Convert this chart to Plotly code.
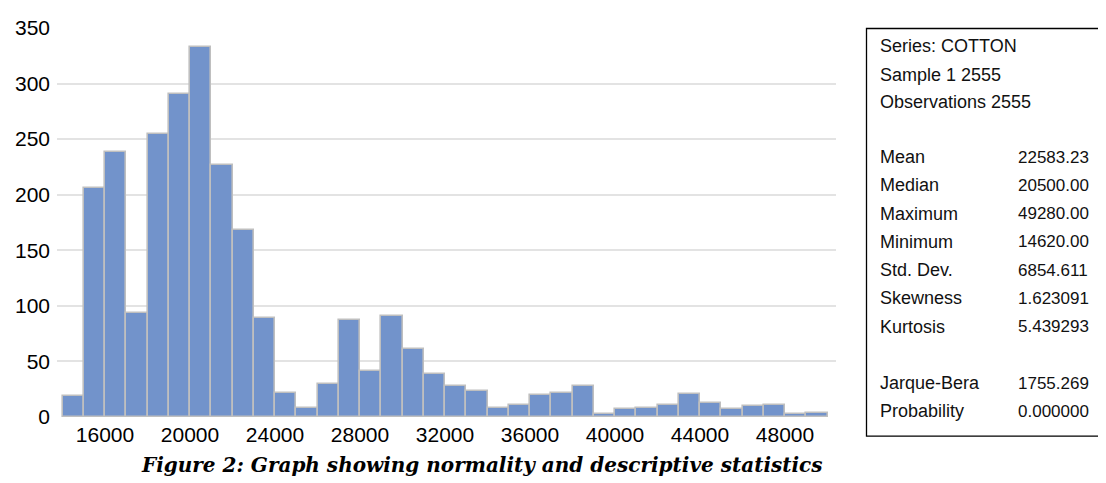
import plotly.graph_objects as go

# Histogram bins (left edge of each 1000-wide bin) and counts
bin_left = list(range(14000, 50000, 1000))
bin_width = 1000
counts = [19, 206, 238, 94, 255, 291, 333, 227, 168, 89,
          22, 8, 30, 87, 41, 91, 61, 39, 28, 23,
          8, 11, 20, 22, 28, 3, 7, 8, 11, 21,
          13, 7, 10, 11, 3, 4]

x_ticks = [16000, 20000, 24000, 28000, 32000, 36000, 40000, 44000, 48000]
y_ticks = [0, 50, 100, 150, 200, 250, 300, 350]

stat_header = ["Series: COTTON", "Sample 1 2555", "Observations 2555"]
stat_names = ["Mean", "Median", "Maximum", "Minimum", "Std. Dev.", "Skewness", "Kurtosis"]
stat_values = ["22583.23", "20500.00", "49280.00", "14620.00", "6854.611", "1.623091", "5.439293"]
test_names = ["Jarque-Bera", "Probability"]
test_values = ["1755.269", "0.000000"]

caption = "Figure 2: Graph showing normality and descriptive statistics"

centers = [b + bin_width / 2 for b in bin_left]

fig = go.Figure()
fig.add_trace(go.Bar(
    x=centers, y=counts, width=[bin_width] * len(counts),
    marker=dict(color="#7293CB", line=dict(color="#BFBFBF", width=1.6)),
    hoverinfo="x+y",
))

# page body has an 8px default margin; work in screen pixels and shift
OFF = 8
W, H = 1106 - 2 * OFF, 483 - OFF
L, R = 57 - OFF, 836 - OFF
T, B = 28 - OFF, 417.4 - OFF
plot_w = R - L
plot_h = B - T

def px_x(px):
    return (px - OFF - L) / plot_w

def px_y(py):
    return (B - (py - OFF)) / plot_h

tick_font = dict(family="Liberation Sans, Arial, sans-serif", size=21, color="#000000")

fig.update_layout(
    width=W, height=H,
    margin=dict(l=L, r=W - R, t=T, b=H - B, autoexpand=False),
    paper_bgcolor="white", plot_bgcolor="white",
    showlegend=False, bargap=0,
    xaxis=dict(range=[13740, 50400], tickvals=x_ticks, ticktext=[str(v) for v in x_ticks],
               showgrid=False, zeroline=False, showline=False, ticks="", automargin=False,
               tickfont=tick_font, ticklabelstandoff=3),
    yaxis=dict(range=[0, 350], tickvals=y_ticks, ticktext=[str(v) for v in y_ticks],
               showgrid=True, gridcolor="#E3E3E3", gridwidth=1.5, zeroline=False, automargin=False,
               showline=False, ticks="", tickfont=tick_font, ticklabelstandoff=6),
)

# Stats box border
fig.add_shape(type="rect", xref="paper", yref="paper",
              x0=px_x(866.5), x1=px_x(1105), y0=px_y(436.5), y1=px_y(28.5),
              line=dict(color="#000000", width=1.3), fillcolor="rgba(0,0,0,0)")

label_font = dict(family="Liberation Sans, Arial, sans-serif", size=18, color="#111111")
value_font = dict(family="Liberation Sans, Arial, sans-serif", size=17, color="#111111")
x_label = px_x(878)
x_value = px_x(1016)

def add_text(txt, xp, py, font):
    fig.add_annotation(text=txt, xref="paper", yref="paper", x=xp, y=px_y(py),
                       xanchor="left", yanchor="middle", showarrow=False, font=font)

header_y = [46, 75, 102.5]
for t, yy in zip(stat_header, header_y):
    add_text(t, x_label, yy, label_font)

stat_y = [157.5, 185.5, 214, 242, 270.5, 298.5, 327]
for n, v, yy in zip(stat_names, stat_values, stat_y):
    add_text(n, x_label, yy, label_font)
    add_text(v, x_value, yy, value_font)

test_y = [383.5, 411.5]
for n, v, yy in zip(test_names, test_values, test_y):
    add_text(n, x_label, yy, label_font)
    add_text(v, x_value, yy, value_font)

# Caption
fig.add_annotation(text="<b><i>" + caption + "</i></b>", xref="paper", yref="paper",
                   x=px_x(482), y=px_y(465), xanchor="center", yanchor="middle",
                   showarrow=False,
                   font=dict(family="DejaVu Serif, Georgia, serif", size=20, color="#000000"))

fig.write_html("out.html")
